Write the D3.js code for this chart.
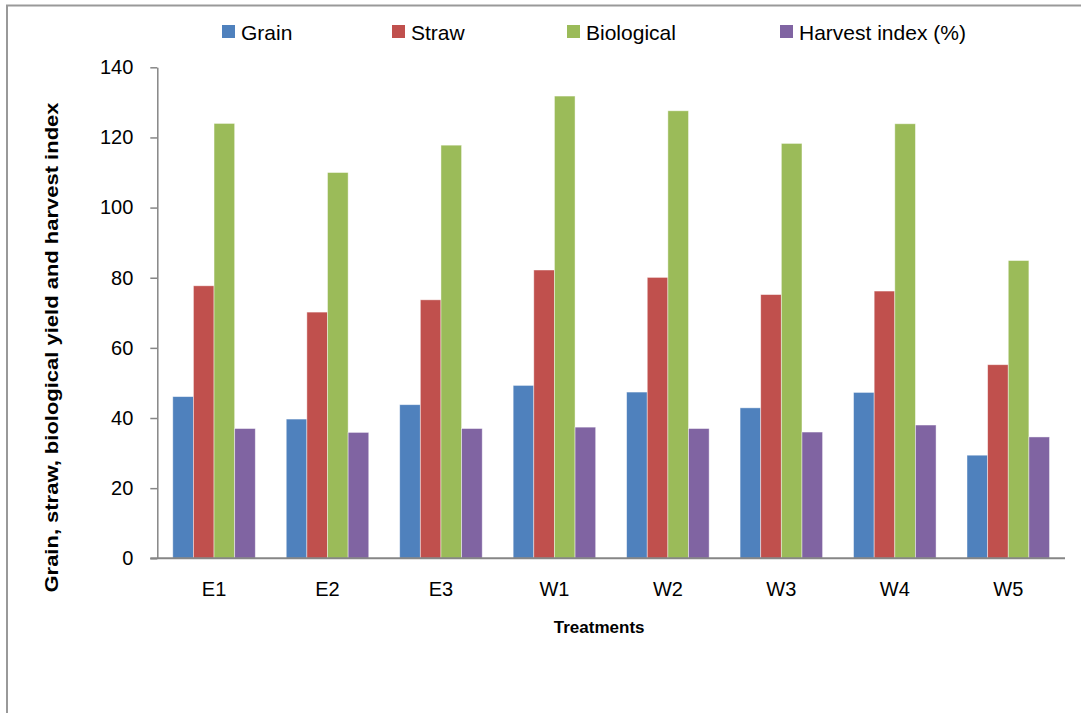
<!DOCTYPE html>
<html>
<head>
<meta charset="utf-8">
<script src="https://cdn.jsdelivr.net/npm/d3@7"></script>
<style>
  html, body { margin: 0; padding: 0; background: #fff; }
  svg { display: block; }
  text { font-family: "Liberation Sans", Arial, sans-serif; fill: #000; }
</style>
</head>
<body>
<svg id="chart" width="1081" height="713"></svg>
<script>
// Treatments on the x axis
const treatments = ["E1", "E2", "E3", "W1", "W2", "W3", "W4", "W5"];

// Series names shown in the legend
const seriesNames = ["Grain", "Straw", "Biological", "Harvest index (%)"];

// Yield values per treatment
const grain      = [46.1, 39.7, 43.8, 49.3, 47.4, 42.9, 47.3, 29.4];
const straw      = [77.7, 70.2, 73.7, 82.2, 80.1, 75.2, 76.2, 55.2];
const biological = [124.0, 110.0, 117.8, 131.8, 127.6, 118.3, 123.9, 84.9];
const harvestIdx = [37.0, 35.9, 37.0, 37.4, 37.0, 36.0, 38.0, 34.6];

// Y axis ticks
const yTicks = [0, 20, 40, 60, 80, 100, 120, 140];

const colors = ["#4F81BD", "#C0504D", "#9BBB59", "#8064A2"];
const seriesValues = [grain, straw, biological, harvestIdx];

const svg = d3.select("#chart");

// Outer chart frame (top and left edges)
svg.append("path")
  .attr("d", "M7,713 L7,5.5 L1081,5.5")
  .attr("fill", "none")
  .attr("stroke", "#999")
  .attr("stroke-width", 2);

const plot = { left: 157.3, right: 1065, top: 67.3, bottom: 558.3 };

const x = d3.scaleBand()
  .domain(treatments)
  .range([plot.left, plot.right])
  .paddingInner(0.2727)
  .paddingOuter(0.1364);

const xs = d3.scaleBand()
  .domain(d3.range(seriesNames.length))
  .range([0, x.bandwidth()]);

const y = d3.scaleLinear()
  .domain([0, 140])
  .range([plot.bottom, plot.top]);

// Bars
const groups = svg.append("g").selectAll("g")
  .data(treatments)
  .join("g")
  .attr("transform", d => `translate(${x(d)},0)`);

groups.selectAll("rect")
  .data((d, i) => seriesValues.map((vals, s) => ({ s, v: vals[i] })))
  .join("rect")
  .attr("x", d => xs(d.s))
  .attr("y", d => y(d.v))
  .attr("width", xs.bandwidth())
  .attr("height", d => y(0) - y(d.v))
  .attr("fill", d => colors[d.s])
  .attr("stroke", "rgba(255,255,255,0.55)")
  .attr("stroke-width", 0.8);

// Y axis
const yAxis = svg.append("g")
  .attr("transform", `translate(${plot.left},0)`)
  .call(d3.axisLeft(y).tickValues(yTicks).tickSize(7).tickPadding(17).tickSizeOuter(0));
yAxis.select(".domain").attr("stroke", "#868686").attr("stroke-width", 1.5);
yAxis.selectAll(".tick line").attr("stroke", "#868686").attr("stroke-width", 1.5);
yAxis.selectAll(".tick text")
  .attr("font-size", 20)
  .attr("font-family", "Liberation Sans, Arial, sans-serif")
  .attr("fill", "#000");

// X axis
const xAxis = svg.append("g")
  .attr("transform", `translate(0,${plot.bottom})`)
  .call(d3.axisBottom(x).tickSize(0).tickPadding(24).tickSizeOuter(0));
xAxis.select(".domain")
  .attr("d", `M${plot.left - 7},0H${plot.right}`)
  .attr("stroke", "#868686").attr("stroke-width", 2);
xAxis.selectAll(".tick text")
  .attr("font-size", 20)
  .attr("font-family", "Liberation Sans, Arial, sans-serif")
  .attr("fill", "#000");

// Axis titles
svg.append("text")
  .attr("x", (plot.left + plot.right) / 2 - 12)
  .attr("y", 633)
  .attr("text-anchor", "middle")
  .attr("font-size", 17)
  .attr("font-weight", "bold")
  .text("Treatments");

svg.append("text")
  .attr("transform", "translate(58,347.5) rotate(-90)")
  .attr("text-anchor", "middle")
  .attr("font-size", 19)
  .attr("font-weight", "bold")
  .attr("textLength", 490)
  .attr("lengthAdjust", "spacingAndGlyphs")
  .text("Grain, straw, biological yield and harvest index");

// Legend
const legendX = [222, 392, 567, 780];
const legend = svg.append("g").selectAll("g")
  .data(seriesNames)
  .join("g")
  .attr("transform", (d, i) => `translate(${legendX[i]},25)`);
legend.append("rect")
  .attr("width", 13).attr("height", 13)
  .attr("fill", (d, i) => colors[i]);
legend.append("text")
  .attr("x", 19).attr("y", 15)
  .attr("font-size", 21)
  .text(d => d);
</script>
</body>
</html>
